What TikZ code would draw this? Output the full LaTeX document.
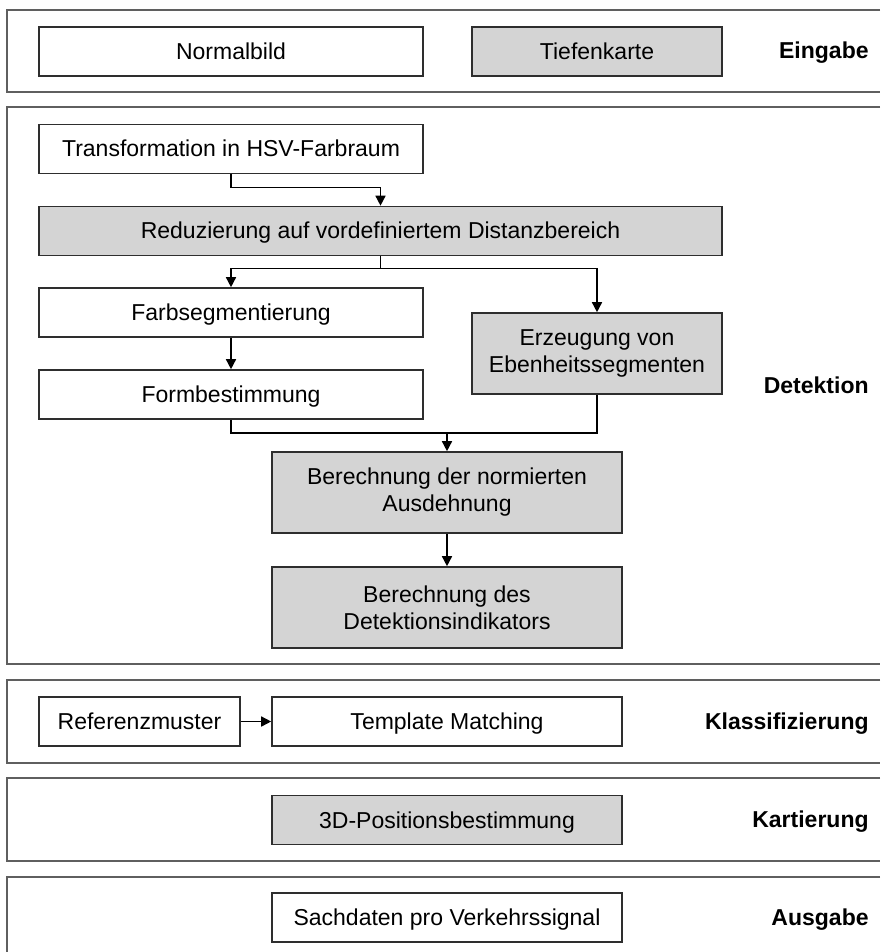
\documentclass[tikz,border=0pt]{standalone}
\usepackage{fontspec}
\setmainfont{Liberation Sans}
\usetikzlibrary{arrows.meta,positioning}
\definecolor{panelline}{HTML}{5F5F5F}
\definecolor{boxline}{HTML}{2E2E2E}
\definecolor{boxfill}{HTML}{D4D4D4}

\begin{document}
\begin{tikzpicture}[x=0.5pt,y=-0.5pt,
  font=\fontsize{11.5}{13.5}\selectfont,
  stepbox/.style={draw=boxline,line width=0.8pt,fill=white,align=center,inner sep=0pt,
    text height=8.5pt,text depth=0.5pt,minimum height=24.5pt},
  shaded/.style={stepbox,fill=boxfill},
  tall/.style={minimum height=40.5pt,text height={},text depth={}},
  link/.style={line width=0.75pt,black},
  arr/.style={link,-{Triangle[length=5pt,width=5pt]}},
  lane/.style={draw=panelline,line width=1pt},
  lanelabel/.style={anchor=east,text height=8.5pt,text depth=0.5pt,inner sep=0pt,
    font=\fontsize{11.5}{13.5}\selectfont\bfseries}]
  \useasboundingbox (0,0) rectangle (880,952);
  \foreach \t/\b/\name/\lab in {10/92/in/Eingabe,107/664/det/Detektion,680/763/kla/Klassifizierung,778/861/kar/Kartierung}{
    \draw[lane] (880,\t) -| (7,\b) -- (880,\b);
    \node[lanelabel] (lab-\name) at (869,{(\t+\b)/2}) {\lab};
  }
  \draw[lane] (880,877) -| (7,952);
  \node[lanelabel] (lab-aus) at (869,917) {Ausgabe};

  \node[stepbox,minimum width=192pt] (normal) at (231,51.5) {Normalbild};
  \node[shaded,minimum width=125pt] (tiefe) at (597,51.5) {Tiefenkarte};
  \node[stepbox,minimum width=192pt] (trans) at (231,149) {Transformation in HSV-Farbraum};
  \node[shaded,minimum width=341.5pt] (red) at (380.5,231) {Reduzierung auf vordefiniertem Distanzbereich};
  \node[stepbox,minimum width=192pt] (farb) at (231,312.5) {Farbsegmentierung};
  \node[stepbox,minimum width=192pt] (form) at (231,394.5) {Formbestimmung};
  \node[shaded,tall,minimum width=125pt] (erz) at (597,353.5) {Erzeugung von\\Ebenheitssegmenten};
  \node[shaded,tall,minimum width=175pt] (ausd) at (447,492.5) {Berechnung der normierten\\Ausdehnung};
  \node[shaded,tall,minimum width=175pt] (indik) at (447,607.5) {Berechnung des\\Detektionsindikators};
  \node[stepbox,minimum width=100.5pt] (ref) at (139.5,721.5) {Referenzmuster};
  \node[stepbox,minimum width=175pt] (match) at (447,721.5) {Template Matching};
  \node[shaded,minimum width=175pt] (pos) at (447,820) {3D-Positionsbestimmung};
  \node[stepbox,minimum width=175pt] (sach) at (447,917.5) {Sachdaten pro Verkehrssignal};

  \draw[arr] (trans.south) -- ++(0,13) -| (red.north);
  \draw[link] (red.south) -- ++(0,12) coordinate (split);
  \draw[arr] (split) -| (farb.north);
  \draw[arr] (split) -| (erz.north);
  \draw[arr] (farb) -- (form);
  \draw[link] (form.south) -- ++(0,13) coordinate (join) -| (erz.south);
  \draw[arr] (join -| ausd.north) -- (ausd.north);
  \draw[arr] (ausd) -- (indik);
  \draw[arr] (ref) -- (match);
\end{tikzpicture}
\end{document}
